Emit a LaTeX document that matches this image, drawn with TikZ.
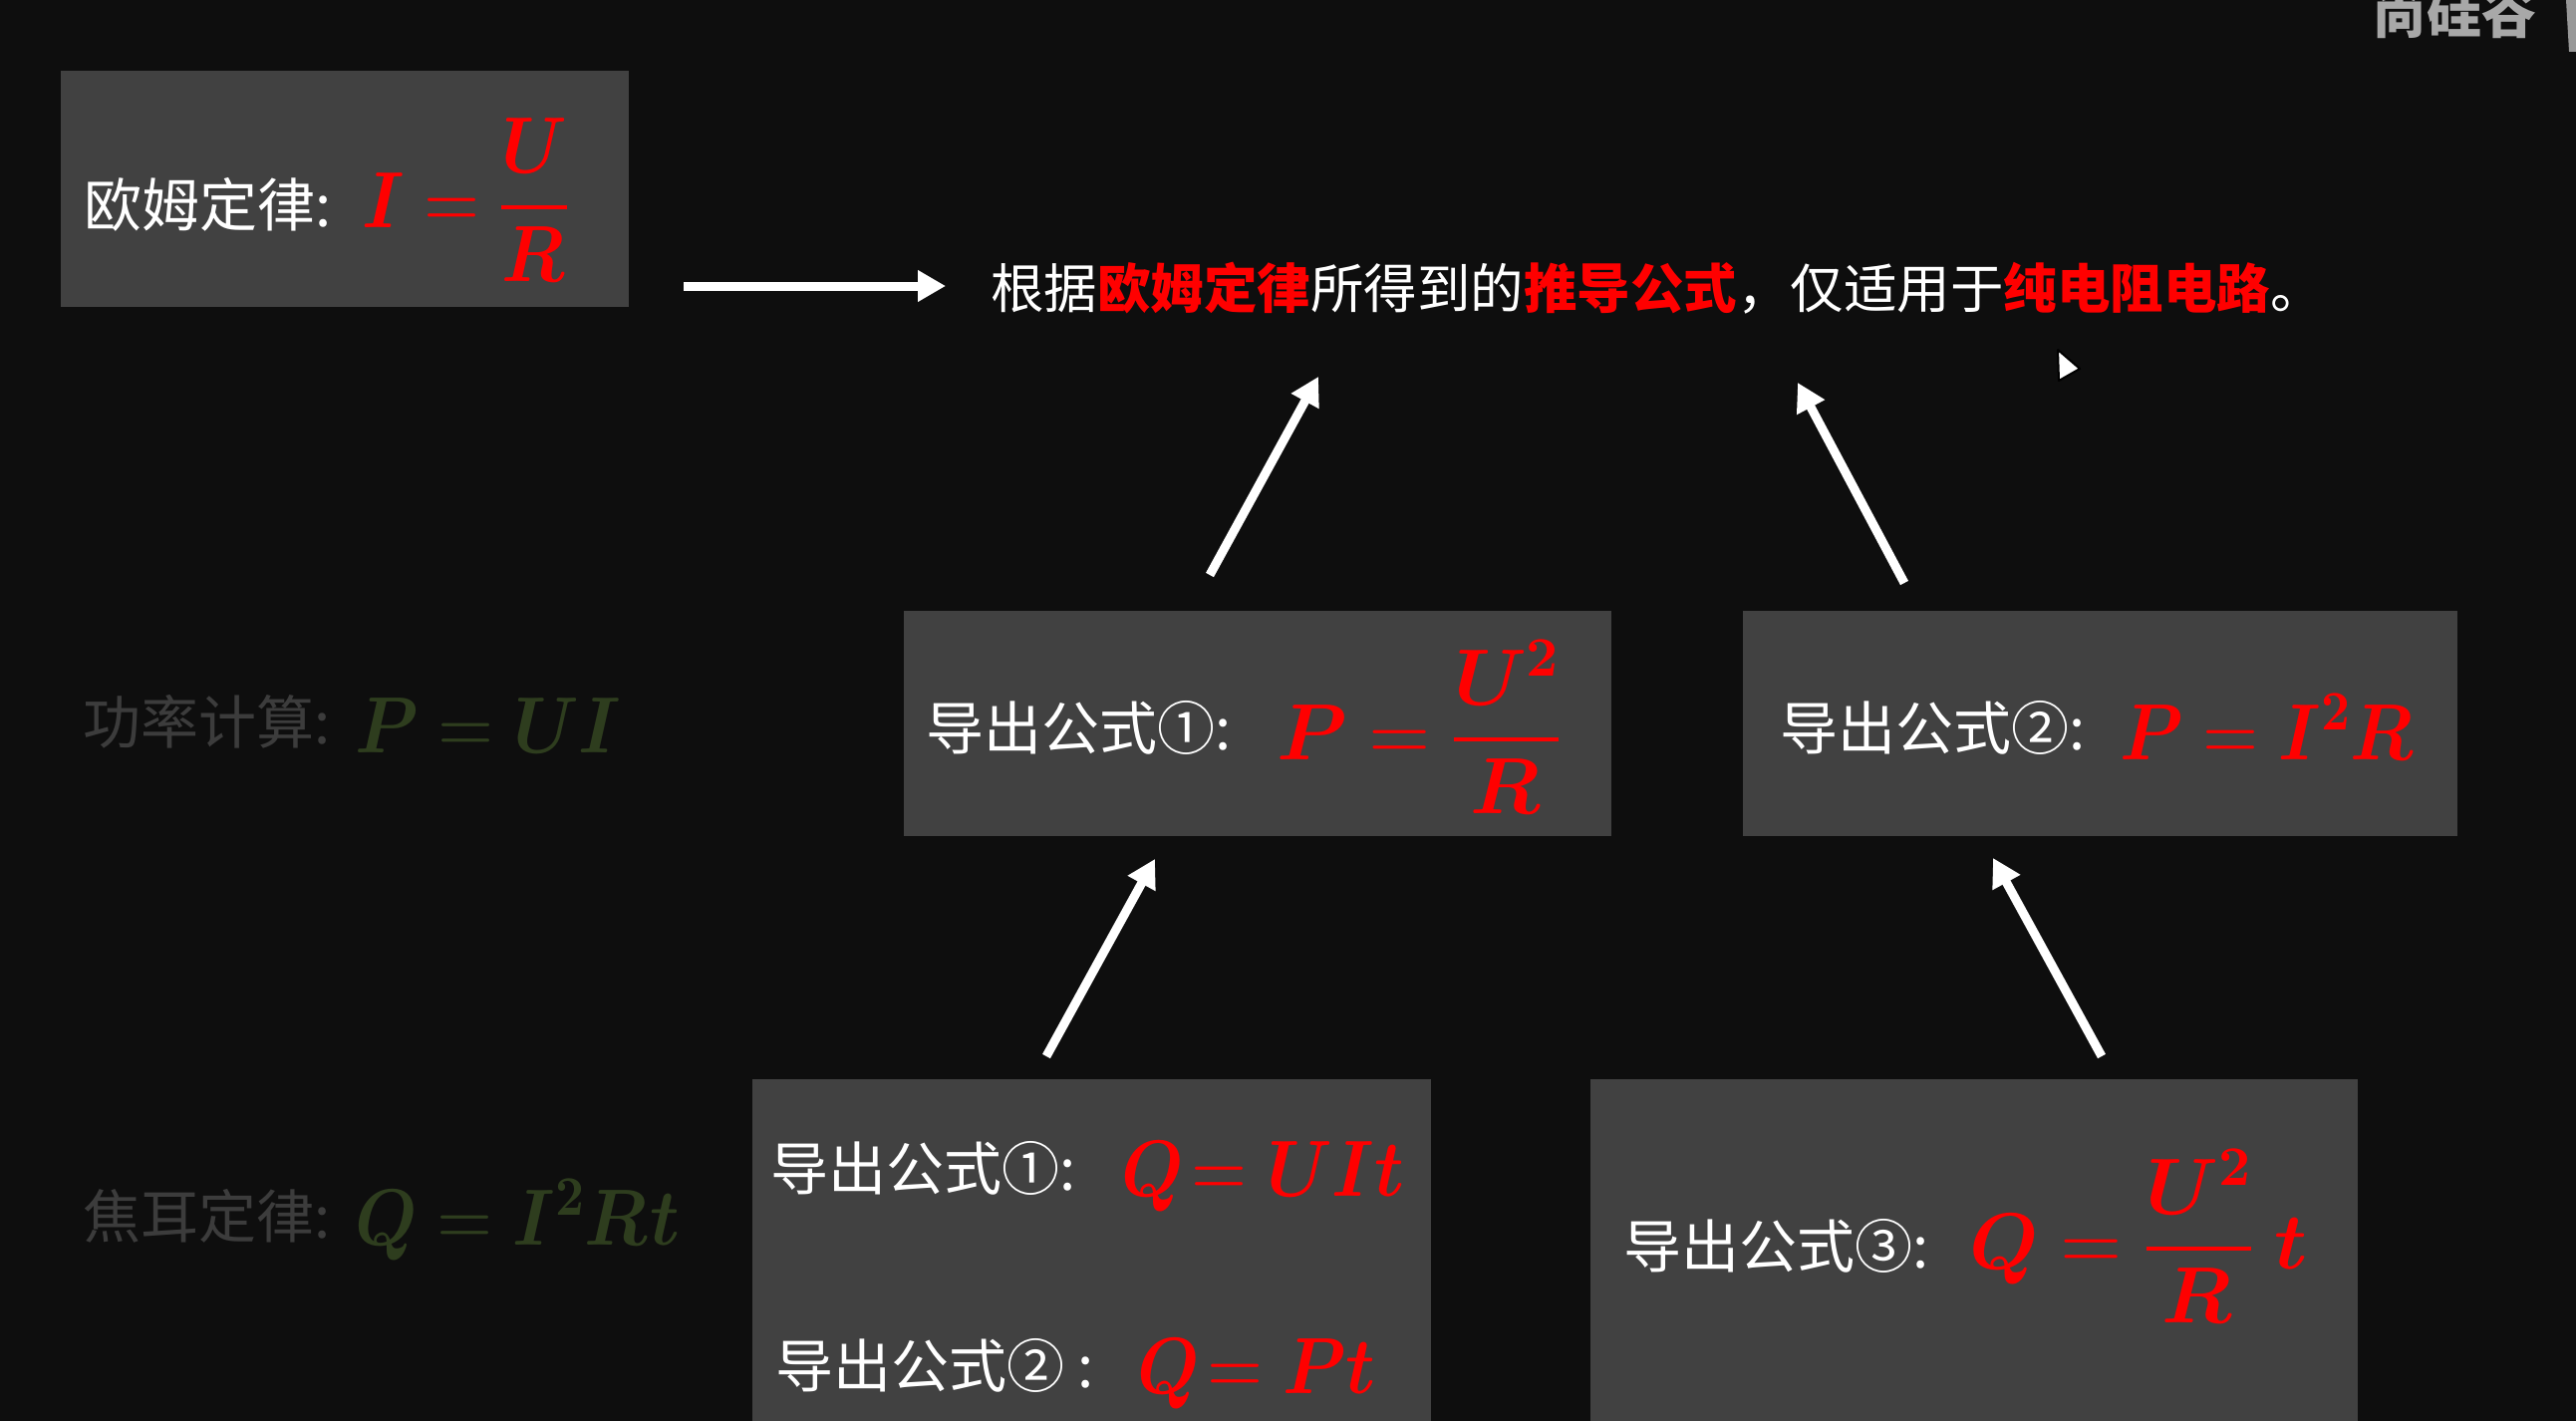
\documentclass[tikz,border=0pt]{standalone}
\usepackage{fontspec}
\usepackage{unicode-math}
\setmathfont{Latin Modern Math}
\newfontfamily\cjk{Noto Sans CJK SC}
\usetikzlibrary{arrows.meta}
\definecolor{bg}{HTML}{0E0E0E}
\definecolor{boxgray}{HTML}{414141}
\definecolor{hred}{HTML}{FF0000}
\definecolor{fadegray}{HTML}{3C3C3C}
\definecolor{fadegreen}{HTML}{2E3D1E}
\definecolor{wmgray}{HTML}{A8A8A8}
\newcommand{\bi}[1]{\symbfit{#1}}
\newcommand{\sq}{^{\symbf{2}}}
\newcommand{\nx}[1]{\scalebox{0.9}[1]{#1}}
\begin{document}
\begin{tikzpicture}[x=1pt,y=-1pt,
  box/.style={fill=boxgray, draw=none, inner sep=0pt},
  zh/.style={text=white, font=\cjk\fontsize{58}{70}\selectfont, inner sep=0pt, anchor=west},
  topline/.style={text=white, font=\cjk\fontsize{53.5}{64}\selectfont, inner sep=0pt, anchor=west},
  fml/.style={text=hred, font=\fontsize{80}{96}\selectfont, inner sep=0pt, anchor=base west},
  fadezh/.style={zh, text=fadegray},
  fadefml/.style={fml, text=fadegreen},
  arr/.style={draw=white, line width=9pt, -{Triangle[length=28pt,width=30pt]}}]
\useasboundingbox (0,0) rectangle (2585,1426);
\fill[bg] (0,0) rectangle (2585,1426);

% watermark
\node[text=wmgray, font=\cjk\bfseries\fontsize{55}{66}\selectfont, inner sep=0pt, anchor=base west] (wm) at (2380,34) {尚硅谷};
\fill[wmgray!120!white] (2575,0) -- (2585,0) -- (2585,52) -- (2578,52) -- cycle;

% boxes
\node[box, minimum width=570pt, minimum height=237pt] (ohm) at (346,189.5) {};
\node[box, minimum width=710pt, minimum height=226pt] (p1) at (1262,726) {};
\node[box, minimum width=717pt, minimum height=226pt] (p2) at (2107.5,726) {};
\node[box, minimum width=681pt, minimum height=360pt] (q1) at (1095.5,1263) {};
\node[box, minimum width=770pt, minimum height=360pt] (q2) at (1981,1263) {};

% Ohm box text
\node[zh] (ohmzh) at (84,205) {欧姆定律:};
\node[fml] (ohmf) at (363,228) {\nx{$\bi{I}=\dfrac{\bi{U}}{\bi{R}}$}};

% top line
\node[topline] (top) at (994,289) {根据{\bfseries\color{hred}欧姆定律}所得到的{\bfseries\color{hred}推导公式}，仅适用于{\bfseries\color{hred}纯电阻电路}。};

% P boxes
\node[zh] (p1zh) at (929,730) {导出公式①:};
\node[fml] (p1f) at (1281,762) {$\bi{P}=\dfrac{\bi{U}\sq}{\bi{R}}$};
\node[zh] (p2zh) at (1786,730) {导出公式②:};
\node[fml] (p2f) at (2127,762) {\nx{$\bi{P}=\bi{I}\sq\bi{R}$}};

% Q boxes
\node[zh] (q1zh) at (773,1172) {导出公式①:};
\node[fml] (q1f) at (1125,1200) {\nx{$\bi{Q}\!=\bi{U}\bi{I}\bi{t}$}};
\node[zh] (q1zhb) at (778,1370) {导出公式② :};
\node[fml] (q1fb) at (1141,1398) {\nx{$\bi{Q}\!=\bi{P}\bi{t}$}};
\node[zh] (q2zh) at (1629,1250) {导出公式③:};
\node[fml] (q2f) at (1976,1273) {$\bi{Q}=\dfrac{\bi{U}\sq}{\bi{R}}\;\bi{t}$};

% faded texts
\node[fadezh] (powzh) at (83,724) {功率计算:};
\node[fadefml] (powf) at (356,755) {\nx{$\bi{P}=\bi{U}\bi{I}$}};
\node[fadezh] (jzh) at (83,1220) {焦耳定律:};
\node[fadefml] (jf) at (356,1249) {\nx{$\bi{Q}=\bi{I}\sq\bi{R}\bi{t}$}};

% arrows
\coordinate (a0s) at (686,287);
\coordinate (a0e) at (949,287);
\coordinate (a1s) at (1214,577);
\coordinate (a1e) at (1323,378);
\coordinate (a2s) at (1911,585);
\coordinate (a2e) at (1804,384);
\coordinate (a3s) at (1050,1060);
\coordinate (a3e) at (1159,862);
\coordinate (a4s) at (2109,1060);
\coordinate (a4e) at (2000,861);
\draw[arr] (a0s) -- (a0e);
\draw[arr] (a1s) -- (a1e);
\draw[arr] (a2s) -- (a2e);
\draw[arr] (a3s) -- (a3e);
\draw[arr] (a4s) -- (a4e);

% cursor
\filldraw[fill=white, draw=black, line width=2pt, line join=round] (2065,351) -- (2087,370) -- (2066,382) -- cycle;
\end{tikzpicture}
\end{document}
